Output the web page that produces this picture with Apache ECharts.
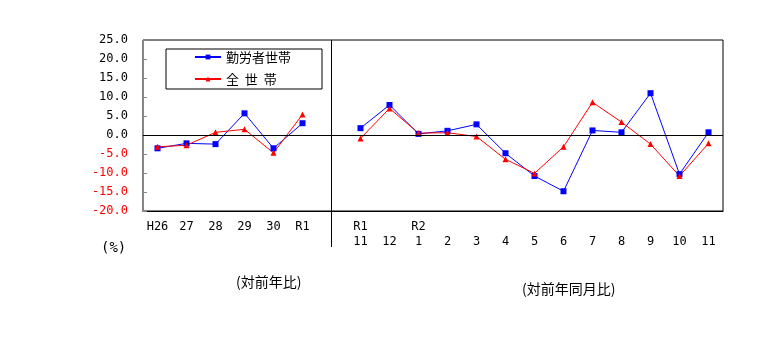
<!DOCTYPE html>
<html><head><meta charset="utf-8">
<script src="https://cdn.jsdelivr.net/npm/echarts@6/dist/echarts.min.js"></script>
<style>html,body{margin:0;padding:0;background:#fff}#c{width:774px;height:354px}</style>
</head><body><div id="c"></div>
<script>
var xLabels = ["H26","27","28","29","30","R1","","R1\n11","\n12","R2\n1","\n2","\n3","\n4","\n5","\n6","\n7","\n8","\n9","\n10","\n11"];
var workers = [-3.5,-2.2,-2.4,5.7,-3.5,3.1,null,1.8,7.9,0.3,1.1,2.8,-4.8,-10.8,-14.8,1.2,0.7,11.0,-10.3,0.7];
var allHouseholds = [-3.1,-2.7,0.7,1.5,-4.7,5.4,null,-0.9,7.0,0.5,0.6,-0.4,-6.4,-10.1,-3.1,8.6,3.4,-2.4,-10.8,-2.2];
var seriesNames = ['勤労者世帯', '全  世  帯'];
var yMin = -20, yMax = 25, yStep = 5;
var dividerIndex = 6;

var mono = "DejaVu Sans Mono";
var jp = "Noto Sans CJK JP";
var chart = echarts.init(document.getElementById('c'));
chart.setOption({
  animation: false,
  grid: {left: 143, right: 51, top: 40, bottom: 143, show: true, borderColor: '#000', borderWidth: 1},
  legend: {
    left: 166, top: 49, orient: 'vertical',
    borderColor: '#000', borderWidth: 1,
    padding: [0, 31, 2, 28],
    itemWidth: 26, itemHeight: 6, itemGap: 6,
    textStyle: {fontFamily: jp, fontSize: 13, color: '#000', lineHeight: 16},
    data: seriesNames
  },
  xAxis: {
    type: 'category', data: xLabels, boundaryGap: true,
    axisLine: {onZero: false, lineStyle: {color: '#000'}},
    axisTick: {show: true, alignWithLabel: true, interval: function (i) { return i === dividerIndex; }, length: 36, lineStyle: {color: '#000'}},
    axisLabel: {interval: 0, margin: 8, fontFamily: mono, fontSize: 12, color: '#000', lineHeight: 15},
    splitLine: {show: false}
  },
  yAxis: {
    type: 'value', min: yMin, max: yMax, interval: yStep,
    axisLine: {show: true, lineStyle: {color: '#888'}},
    axisTick: {show: true, inside: true, length: 4, lineStyle: {color: '#888'}},
    splitLine: {show: false},
    axisLabel: {
      margin: 15, fontFamily: mono, fontSize: 12,
      formatter: function (v) { return v.toFixed(1); },
      color: function (v) { return Number(v) < 0 ? '#ff0000' : '#000'; }
    }
  },
  graphic: [
    {type: 'text', left: 101, top: 241, style: {text: '(%)', font: '14px "' + mono + '"', fill: '#000'}},
    {type: 'text', left: 236, top: 275, style: {text: '(対前年比)', font: '14px "' + jp + '"', fill: '#000'}},
    {type: 'text', left: 522, top: 282, style: {text: '(対前年同月比)', font: '14px "' + jp + '"', fill: '#000'}}
  ],
  series: [
    {
      name: seriesNames[0], type: 'line', data: workers, connectNulls: false,
      symbol: 'rect', symbolSize: 6, showAllSymbol: true,
      lineStyle: {color: '#0000ff', width: 1}, itemStyle: {color: '#0000ff'},
      markLine: {
        silent: true, symbol: 'none', label: {show: false},
        lineStyle: {color: '#000', width: 1, type: 'solid'},
        data: [{yAxis: 0}, {xAxis: dividerIndex}]
      }
    },
    {
      name: seriesNames[1], type: 'line', data: allHouseholds, connectNulls: false,
      symbol: 'triangle', symbolSize: 6, showAllSymbol: true,
      lineStyle: {color: '#ff0000', width: 1}, itemStyle: {color: '#ff0000'}
    }
  ]
});
</script></body></html>
